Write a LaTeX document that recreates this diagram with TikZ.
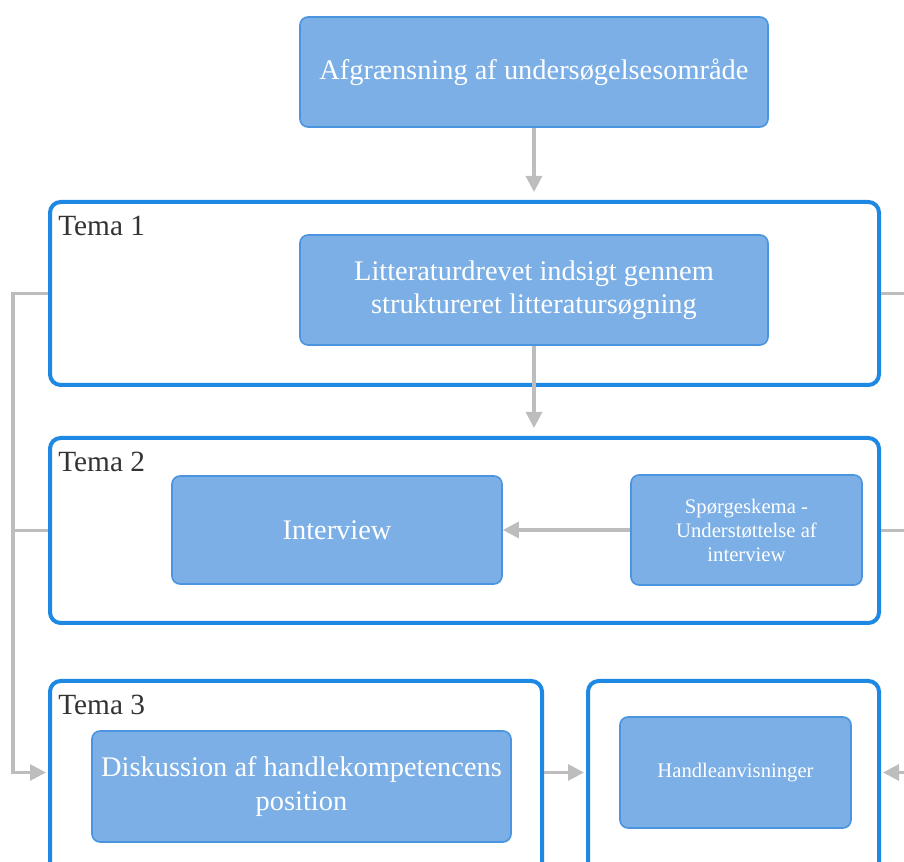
\documentclass[tikz,border=0pt]{standalone}
\usepackage{fontspec}
\setmainfont{Liberation Serif}
\usetikzlibrary{positioning,arrows.meta}
\definecolor{boxfill}{HTML}{7BAFE6}
\definecolor{boxline}{HTML}{4A94E0}
\definecolor{frameline}{HTML}{1E88E5}
\definecolor{connline}{HTML}{BDBDBD}
\definecolor{labeltext}{HTML}{333333}

\begin{document}
\begin{tikzpicture}[
  x=0.75pt, y=-0.75pt,
  box/.style={draw=boxline,fill=boxfill,line width=1.2pt,rounded corners=6pt,align=center,text=white,font=\fontsize{21.3}{25}\selectfont,inner sep=0pt},
  smallbox/.style={box,font=\fontsize{15.5}{18}\selectfont},
  frame/.style={draw=frameline,line width=3pt,rounded corners=8pt,inner sep=0pt},
  tema/.style={anchor=north west,text=labeltext,font=\fontsize{22}{26}\selectfont,inner sep=0pt},
  arr/.style={-{Triangle[length=12pt,width=12pt]},draw=connline,line width=2.3pt},
  conn/.style={draw=connline,line width=2.3pt}
]
\clip (0,0) rectangle (904,862);

% frames
\node[frame, minimum width=621.75pt, minimum height=137.25pt] (tema1) at (464.5,293.5) {};
\node[frame, minimum width=621.75pt, minimum height=138.75pt] (tema2) at (464.5,530.5) {};
\node[frame, minimum width=369pt, minimum height=164.25pt] (tema3) at (296,790.5) {};
\node[frame, minimum width=218.25pt, minimum height=164.25pt] (handlfr) at (733.5,790.5) {};

\node[tema] (t1label) at ([shift={(10,16)}]tema1.north west) {Tema 1};
\node[tema] (t2label) at ([shift={(10,16)}]tema2.north west) {Tema 2};
\node[tema] (t3label) at ([shift={(10,16)}]tema3.north west) {Tema 3};

% boxes
\node[box, minimum width=351pt, minimum height=82.5pt] (afgr) at (534,72) {Afgrænsning af undersøgelsesområde};
\node[box, minimum width=351pt, minimum height=82.5pt] (litt) at (534,290) {Litteraturdrevet indsigt gennem\\ strukture­ret litteratursøgning};
\node[box, minimum width=247.5pt, minimum height=81pt] (interview) at (337,530) {Interview};
\node[smallbox, minimum width=173.25pt, minimum height=82.5pt] (spoerg) at (746.5,530) {Spørgeskema -\\Understøttelse af\\interview};
\node[box, minimum width=314.25pt, minimum height=83.25pt] (disk) at (301.5,786.5) {Diskussion af handlekompetencens\\position};
\node[smallbox, minimum width=173.25pt, minimum height=83.25pt] (handl) at (735.5,772.5) {Handleanvisninger};

\coordinate (rail) at (13,0);
\coordinate (offedge) at (915,0);

\draw[arr,shorten >=6pt] (afgr.south) -- (afgr.south |- tema1.north);
\draw[arr,shorten >=6pt] (litt.south) -- (litt.south |- tema2.north);
\draw[arr] (spoerg) -- (interview);
\draw[arr,shorten >=1.5pt] (tema1.west) -| (rail |- handl) -- (tema3.west |- handl);
\draw[conn] (tema2.west) -- (rail |- tema2.west);
\draw[conn] (tema1.east) -- (offedge |- tema1.east);
\draw[conn] (tema2.east) -- (offedge |- tema2.east);
\draw[arr,shorten >=1.5pt] (tema3.east |- handl) -- (handlfr.west |- handl);
\draw[arr,shorten >=1.5pt] (offedge |- handl) -- (handlfr.east |- handl);
\end{tikzpicture}
\end{document}
